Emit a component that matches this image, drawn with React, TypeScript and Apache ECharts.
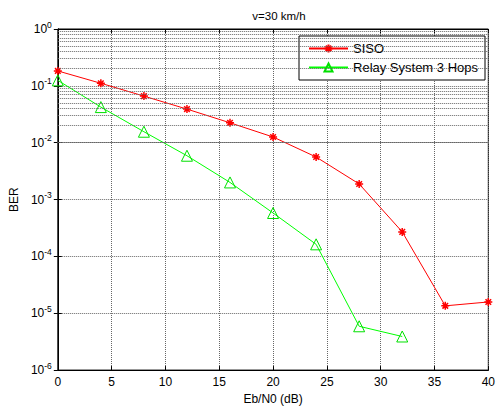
import React, { useEffect, useRef } from "react";
import * as echarts from "echarts";

const ebn0 = [0, 4, 8, 12, 16, 20, 24, 28, 32, 36, 40];
const sisoBer = [0.183, 0.111, 0.066, 0.039, 0.0224, 0.0126, 0.0056, 0.00188, 0.00027, 1.35e-5, 1.58e-5];
const relayX = [0, 4, 8, 12, 16, 20, 24, 28, 32];
const relayBer = [0.125, 0.0423, 0.0156, 0.0059, 0.002, 0.00058, 0.000163, 5.9e-6, 3.9e-6];
const decades = [-6, -5, -4, -3, -2, -1];
const minorMultipliers = [2, 3, 4, 5, 6, 7, 8, 9];

const ASTERISK = "path://M5,0L5,10M0,5L10,5M1.5,1.5L8.5,8.5M1.5,8.5L8.5,1.5";

export default function App() {
  const ref = useRef<HTMLDivElement>(null);
  useEffect(() => {
    if (!ref.current) return;
    const chart = echarts.init(ref.current, undefined, { renderer: "svg" });
    const minorLines: any[] = [];
    decades.forEach((d) =>
      minorMultipliers.forEach((m) => minorLines.push({ yAxis: m * Math.pow(10, d) }))
    );
    const font = "Liberation Sans, Arial, sans-serif";
    const gridColor = "#666";
    const gridLine = { show: true, lineStyle: { color: gridColor, type: [1, 1] as any, width: 1 } };
    chart.setOption({
      animation: false,
      backgroundColor: "#fff",
      textStyle: { fontFamily: font },
      title: {
        text: "v=30 km/h",
        left: 274,
        textAlign: "center",
        top: 5,
        textStyle: { fontSize: 11.5, fontWeight: "normal", color: "#000", fontFamily: font },
      },
      grid: { left: 57, right: 7, top: 29, bottom: 39, show: true, borderColor: "#000", borderWidth: 1, backgroundColor: "#fff" },
      legend: {
        orient: "vertical",
        right: 13,
        top: 36,
        itemWidth: 39,
        itemHeight: 10,
        itemGap: 6,
        padding: [6, 7, 6, 9],
        borderColor: "#000",
        borderWidth: 1,
        backgroundColor: "#fff",
        align: "left",
        textStyle: { fontSize: 13, color: "#000", fontFamily: font },
        data: ["SISO", "Relay System 3 Hops"],
      },
      xAxis: [
        {
          type: "value",
          min: 0,
          max: 40,
          interval: 5,
          name: "Eb/N0 (dB)",
          nameLocation: "middle",
          nameGap: 21,
          nameTextStyle: { fontSize: 12, color: "#000", fontFamily: font },
          axisLine: { lineStyle: { color: "#000" } },
          axisTick: { inside: true, length: 4, lineStyle: { color: "#000" } },
          axisLabel: { fontSize: 12, color: "#000", margin: 6, fontFamily: font },
          splitLine: gridLine,
        },
        {
          type: "value",
          position: "top",
          min: 0,
          max: 40,
          interval: 5,
          axisLine: { lineStyle: { color: "#000" } },
          axisTick: { inside: true, length: 4, lineStyle: { color: "#000" } },
          axisLabel: { show: false },
          splitLine: { show: false },
        },
      ],
      yAxis: [
        {
          type: "log",
          logBase: 10,
          min: 1e-6,
          max: 1,
          interval: 1,
          name: "BER",
          nameLocation: "middle",
          nameGap: 37,
          nameTextStyle: { fontSize: 12, color: "#000", fontFamily: font },
          axisLine: { lineStyle: { color: "#000" } },
          axisTick: { inside: true, length: 4, lineStyle: { color: "#000" } },
          splitLine: gridLine,
          axisLabel: {
            margin: 6,
            formatter: (v: number) => `{b|10}{s|${Math.round(Math.log10(v))}}`,
            rich: {
              b: { fontSize: 12, color: "#000", fontFamily: font },
              s: { fontSize: 8.5, color: "#000", fontFamily: font, verticalAlign: "top", padding: [0, 0, 9, 0] },
            },
          },
        },
        {
          type: "log",
          logBase: 10,
          min: 1e-6,
          max: 1,
          interval: 1,
          position: "right",
          axisLine: { lineStyle: { color: "#000" } },
          axisTick: { inside: true, length: 4, lineStyle: { color: "#000" } },
          axisLabel: { show: false },
          splitLine: { show: false },
        },
      ],
      series: [
        {
          name: "minor",
          type: "line",
          data: [],
          silent: true,
          markLine: {
            silent: true,
            symbol: "none",
            label: { show: false },
            lineStyle: { color: gridColor, type: [1, 1], width: 1 },
            data: minorLines,
            animation: false,
          },
        },
        {
          name: "SISO",
          type: "line",
          data: ebn0.map((x, i) => [x, sisoBer[i]]),
          symbol: ASTERISK,
          symbolSize: 8,
          lineStyle: { color: "#ff0000", width: 1 },
          itemStyle: { color: "#ff0000", borderColor: "#ff0000", borderWidth: 1.5 },
        },
        {
          name: "Relay System 3 Hops",
          type: "line",
          data: relayX.map((x, i) => [x, relayBer[i]]),
          symbol: "triangle",
          symbolSize: 11,
          lineStyle: { color: "#00ff00", width: 1 },
          itemStyle: { color: "#ffffff00", borderColor: "#00e000", borderWidth: 1 },
        },
      ],
    });
    return () => chart.dispose();
  }, []);
  return <div ref={ref} style={{ position: "fixed", left: 0, top: 0, width: 498, height: 410 }} />;
}
